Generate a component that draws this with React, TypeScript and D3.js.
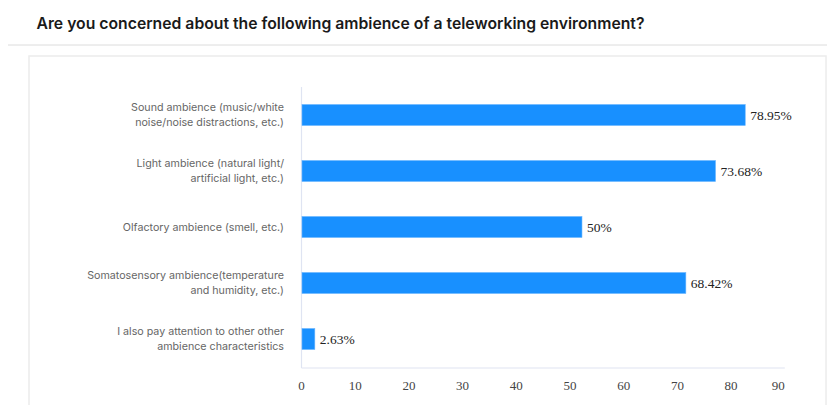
import React from "react";
import * as d3 from "d3";

const title = "Are you concerned about the following ambience of a teleworking environment?";
const categories = [
  ["Sound ambience (music/white", "noise/noise distractions, etc.)"],
  ["Light ambience (natural light/", "artificial light, etc.)"],
  ["Olfactory ambience (smell, etc.)"],
  ["Somatosensory ambience(temperature", "and humidity, etc.)"],
  ["I also pay attention to other other", "ambience characteristics"],
];
const values = [78.95, 73.68, 50, 68.42, 2.63];
const valueLabels = ["78.95%", "73.68%", "50%", "68.42%", "2.63%"];
const tickValues = [0, 10, 20, 30, 40, 50, 60, 70, 80, 90];

const W = 827;
const H = 405;

export default function App() {
  const keys = categories.map((c) => c.join(" "));
  const y = d3.scaleBand<string>().domain(keys).range([87, 367]).paddingInner(0.625).paddingOuter(0.3125);
  const xBar = d3.scaleLinear().domain([0, 86]).range([300, 785]);
  const xTick = d3.scaleLinear().domain([0, 90]).range([301.5, 784.8]);
  const axisY = 368;
  const axisX0 = 301.5;

  return (
    <svg width={W} height={H} style={{ position: "absolute", left: 0, top: 0, background: "#fff" }}>
      <text x={36.5} y={23} dominantBaseline="central" fontFamily="Inter, 'Liberation Sans', sans-serif" fontWeight={600} fontSize={15.75} fill="#1a1a1a">
        {title}
      </text>
      <line x1={8} x2={W} y1={45} y2={45} stroke="#dcdcdc" strokeWidth={1} />
      <rect x={29} y={56} width={W - 30} height={H} fill="#fff" stroke="#ececec" strokeWidth={1.5} />

      <line x1={axisX0} x2={axisX0} y1={87} y2={axisY} stroke="#dfe4f2" strokeWidth={1.2} />
      <line x1={axisX0} x2={xTick(90)} y1={axisY} y2={axisY} stroke="#dfe4f2" strokeWidth={1.2} />

      {tickValues.map((t, i) => (
        <text
          key={t}
          x={xTick(t)}
          y={385}
          textAnchor={i === tickValues.length - 1 ? "end" : "middle"}
          dominantBaseline="central"
          fontFamily="'Liberation Serif', 'Times New Roman', serif"
          fontSize={13}
          fill="#444"
        >
          {t}
        </text>
      ))}

      {keys.map((k, i) => {
        const y0 = y(k)!;
        const bw = y.bandwidth();
        const cy = y0 + bw / 2;
        const lines = categories[i];
        const lh = 14.4;
        return (
          <g key={k}>
            <rect x={xBar(0) + 2} y={y0} width={xBar(values[i]) - xBar(0) - 2} height={bw} fill="#1890ff" stroke="#6bb6ff" strokeWidth={0.6} />
            <text
              x={xBar(values[i]) + 5}
              y={cy}
              dominantBaseline="central"
              fontFamily="'Liberation Serif', 'Times New Roman', serif"
              fontSize={13.5}
              fill="#222"
            >
              {valueLabels[i]}
            </text>
            {lines.map((ln, j) => (
              <text
                key={j}
                x={284}
                y={cy + (j - (lines.length - 1) / 2) * lh}
                textAnchor="end"
                dominantBaseline="central"
                fontFamily="Inter, 'Liberation Sans', sans-serif"
                fontSize={10.7}
                fill="#666"
              >
                {ln}
              </text>
            ))}
          </g>
        );
      })}
    </svg>
  );
}
